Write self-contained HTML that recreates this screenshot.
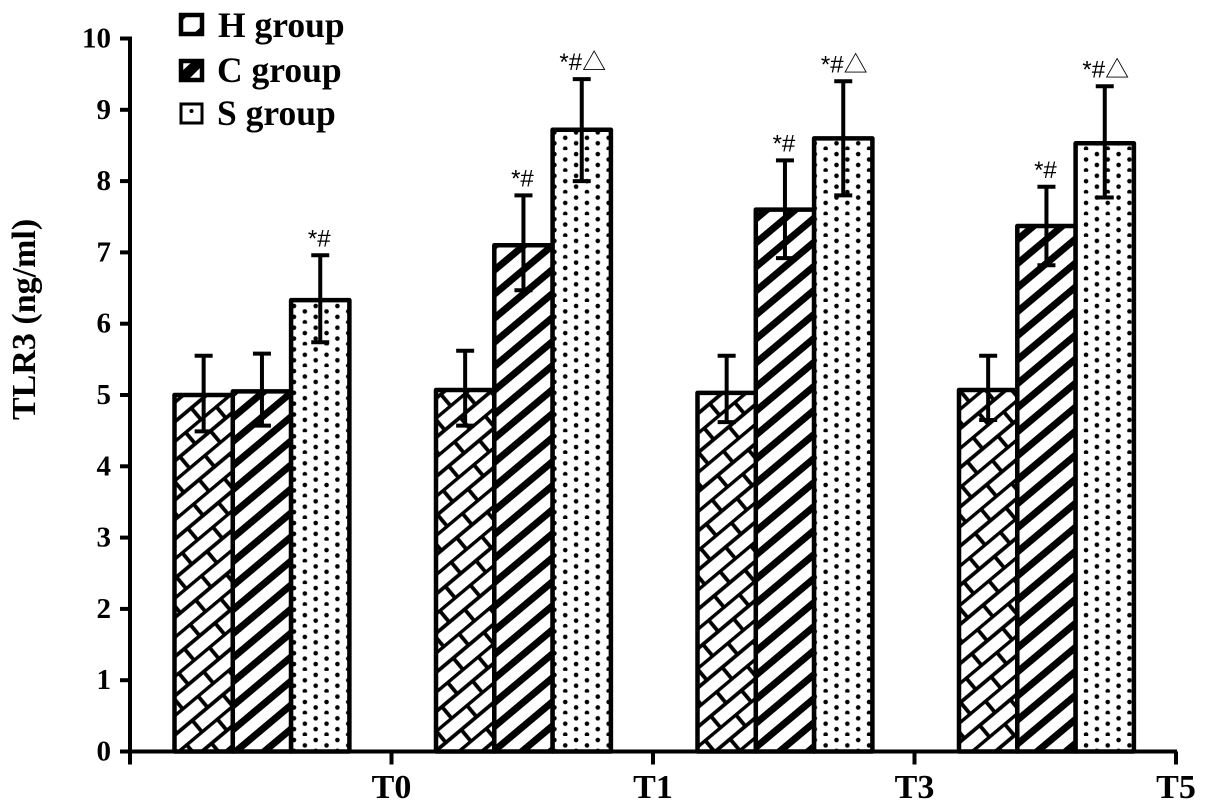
<!DOCTYPE html>
<html>
<head>
<meta charset="utf-8">
<title>TLR3 chart</title>
<style>
html,body{margin:0;padding:0;background:#fff;}
svg{display:block;}
text{font-family:"Liberation Serif","Noto Serif CJK SC",serif;font-weight:bold;fill:#000;}
.ann{font-family:"Liberation Sans","Noto Sans CJK SC",sans-serif;font-weight:normal;}
</style>
</head>
<body>
<svg id="chart" width="1205" height="810" viewBox="0 0 1205 810" xmlns="http://www.w3.org/2000/svg">
  <defs>
    <pattern id="brick" patternUnits="userSpaceOnUse" width="40" height="30" patternTransform="translate(178 750) rotate(-40)">
      <rect width="40" height="30" fill="#fff"/>
      <path d="M0 1.5H40M0 16.5H40M10 1.5V16.5M30 16.5V31.5" stroke="#000" stroke-width="3.8" fill="none"/>
    </pattern>
    <pattern id="stripe" patternUnits="userSpaceOnUse" width="18" height="18.4" patternTransform="translate(232 750) rotate(-40)">
      <rect width="18" height="18.4" fill="#fff"/>
      <rect y="0" width="18" height="7" fill="#000"/>
    </pattern>
    <pattern id="dots" patternUnits="userSpaceOnUse" width="21.7" height="21.7" patternTransform="translate(290 302)">
      <rect width="21.7" height="21.7" fill="#fff"/>
      <circle cx="4" cy="4" r="2.3" fill="#000"/>
      <circle cx="14.85" cy="9.4" r="2.3" fill="#000"/>
      <circle cx="4" cy="14.85" r="2.3" fill="#000"/>
      <circle cx="14.85" cy="20.25" r="2.3" fill="#000"/>
    </pattern>
    <pattern id="brick-key" patternUnits="userSpaceOnUse" width="21" height="19" patternTransform="translate(181 15)">
      <rect width="21" height="19" fill="#fff"/>
      <path d="M0 0H7L0 7ZM21 19H12L21 11Z" fill="#000"/>
    </pattern>
    <pattern id="stripe-key" patternUnits="userSpaceOnUse" width="21" height="19" patternTransform="translate(181 61)">
      <rect width="21" height="19" fill="#000"/>
      <path d="M0 0H12L0 11ZM21 5V19H7Z" fill="#fff"/>
    </pattern>
    <pattern id="dot-key" patternUnits="userSpaceOnUse" width="21" height="19" patternTransform="translate(181 104)">
      <rect width="21" height="19" fill="#fff"/>
      <circle cx="10.5" cy="7" r="2" fill="#000"/>
    </pattern>
  </defs>
  <g id="bars"></g>
  <g id="errors"></g>
  <g id="axes"></g>
  <g id="annotations"></g>
  <text transform="translate(35 420) rotate(-90)" font-size="34">TLR3 (ng/ml)</text>
  <g>
    <g>
      <rect x="181" y="15" width="21" height="19" fill="url(#brick-key)" stroke="#000" stroke-width="4.5"/>
      <text x="218" y="37" font-size="35.5">H group</text>
    </g>
    <g>
      <rect x="181" y="61" width="21" height="19" fill="url(#stripe-key)" stroke="#000" stroke-width="4.5"/>
      <text x="217" y="82" font-size="35.5">C group</text>
    </g>
    <g>
      <rect x="181" y="104" width="21" height="19" fill="url(#dot-key)" stroke="#000" stroke-width="3"/>
      <text x="217" y="125" font-size="35.5">S group</text>
    </g>
  </g>
</svg>
<script>
const categories = ['T0', 'T1', 'T3', 'T5'];
const yTickLabels = [0, 1, 2, 3, 4, 5, 6, 7, 8, 9, 10];
const hValues = [5.0, 5.07, 5.03, 5.07];
const cValues = [5.05, 7.1, 7.6, 7.37];
const sValues = [6.33, 8.72, 8.6, 8.53];
const hErrHigh = [5.55, 5.62, 5.55, 5.55];
const cErrHigh = [5.58, 7.8, 8.29, 7.92];
const sErrHigh = [6.96, 9.43, 9.4, 9.33];
const hErrLow = [4.49, 4.57, 4.62, 4.65];
const cErrLow = [4.57, 6.47, 6.92, 6.82];
const sErrLow = [5.74, 8.0, 7.8, 7.77];
const hMarks = ['', '', '', ''];
const cMarks = ['', '*#', '*#', '*#'];
const sMarks = ['*#', '*#△', '*#△', '*#△'];

const NS = 'http://www.w3.org/2000/svg';
const axisLeft = 130, axisRight = 1176, axisBottom = 751.5, axisTop = 38.5;
const yMax = 10;
function yScale(v) { return axisBottom - (v / yMax) * (axisBottom - axisTop); }
const catStep = (axisRight - axisLeft) / categories.length;
function catTickX(i) { return axisLeft + catStep * (i + 1); }
const barW = 58.3;
function barX(catIndex, seriesIndex) {
  return catTickX(catIndex) - 217 + seriesIndex * barW;
}
function make(tag, attrs, parent) {
  const el = document.createElementNS(NS, tag);
  for (const k in attrs) el.setAttribute(k, attrs[k]);
  parent.appendChild(el);
  return el;
}
const seriesList = [
  { key: 'h', values: hValues, high: hErrHigh, low: hErrLow, marks: hMarks, fill: 'url(#brick)' },
  { key: 'c', values: cValues, high: cErrHigh, low: cErrLow, marks: cMarks, fill: 'url(#stripe)' },
  { key: 's', values: sValues, high: sErrHigh, low: sErrLow, marks: sMarks, fill: 'url(#dots)' }
];
const barsG = document.getElementById('bars');
const errG = document.getElementById('errors');
const annG = document.getElementById('annotations');
const axesG = document.getElementById('axes');

seriesList.forEach(function (s, si) {
  categories.forEach(function (c, ci) {
    const x = barX(ci, si);
    const y = yScale(s.values[ci]);
    const bar = make('rect', { x: x, y: y, width: barW, height: axisBottom - y, fill: s.fill, stroke: '#000', 'stroke-width': 4.5, 'stroke-linejoin': 'round' }, barsG);
    
    
    const cx = x + barW / 2;
    const yh = yScale(s.high[ci]);
    const yl = yScale(s.low[ci]);
    const err = make('path', { d: 'M' + cx + ' ' + yh + 'V' + yl + 'M' + (cx - 9) + ' ' + yh + 'H' + (cx + 9) + 'M' + (cx - 9) + ' ' + yl + 'H' + (cx + 9), stroke: '#000', 'stroke-width': 4, fill: 'none' }, errG);
    
    
    if (s.marks[ci]) {
      const label = s.marks[ci];
      const t = make('text', { x: cx - 1 + (label.length > 2 ? 2 : 0), y: yh - 9, 'font-size': 24, 'text-anchor': 'middle', class: 'ann' }, annG);
      t.textContent = label;
      
      
    }
  });
});

const yLine = make('line', { x1: axisLeft, x2: axisLeft, y1: axisTop - 2, y2: axisBottom + 13, stroke: '#000', 'stroke-width': 4 }, axesG);


const xLine = make('line', { x1: axisLeft - 10, x2: axisRight + 1, y1: axisBottom, y2: axisBottom, stroke: '#000', 'stroke-width': 4 }, axesG);



yTickLabels.forEach(function (v) {
  const y = yScale(v);
  const tick = make('line', { x1: axisLeft - 10, x2: axisLeft, y1: y, y2: y, stroke: '#000', 'stroke-width': 4 }, axesG);
  
  
  const t = make('text', { x: axisLeft - 19, y: y + 9, 'font-size': 29, 'text-anchor': 'end' }, axesG);
  t.textContent = v;
  
  
});

categories.forEach(function (c, i) {
  const x = catTickX(i);
  const tick = make('line', { x1: x, x2: x, y1: axisBottom, y2: axisBottom + 13, stroke: '#000', 'stroke-width': 4 }, axesG);
  
  
  const t = make('text', { x: x, y: 798, 'font-size': 34, 'text-anchor': 'middle' }, axesG);
  t.textContent = c;
  
  
});
</script>
</body>
</html>
